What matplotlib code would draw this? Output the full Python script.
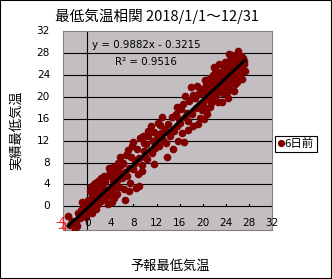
import matplotlib
matplotlib.use("Agg")
import matplotlib.pyplot as plt
from matplotlib.patches import Rectangle
from matplotlib.lines import Line2D
import numpy as np

plt.rcParams['font.family'] = ['Noto Sans CJK JP', 'DejaVu Sans']

title = "最低気温相関 2018/1/1～12/31"
x_label = "予報最低気温"
y_label = "実績最低気温"
series_name = "6日前"
eq_text = "y = 0.9882x - 0.3215"
r2_text = "R² = 0.9516"
slope = 0.9882
intercept = -0.3215
ticks = [-4, 0, 4, 8, 12, 16, 20, 24, 28, 32]

forecast = [
    -3.3, -3.0, -2.6, -2.1, -2.0, -1.6, -1.2, -1.0, -0.7, -0.5, -0.3, -0.1, -1.8, -0.9,
    0.1, 0.2, 0.4, 0.5, 0.6, 0.8, 0.9, 1.0, 1.1, 1.2, 1.3, 1.4, 1.5, 1.6, 1.7, 1.8,
    1.9, 2.0, 2.1, 2.2, 2.3, 2.4, 2.5, 2.6, 2.7, 2.8, 2.9, 3.0, 0.7, 1.5,
    3.1, 3.3, 3.5, 3.6, 3.8, 4.0, 4.1, 4.3, 4.4, 4.5, 4.7, 4.8, 5.0, 5.1,
    5.2, 5.4, 5.5, 5.7, 5.8, 6.0, 3.4, 3.9, 4.2, 4.6, 5.3, 5.6, 3.7, 4.9,
    6.2, 6.3, 6.5, 6.7, 6.9, 7.0, 7.2, 7.4, 7.5, 7.7, 7.9, 8.0, 8.2, 8.4,
    8.6, 8.8, 9.0, 9.2, 9.4, 9.6, 9.8, 10.0, 6.6, 7.3, 8.3, 8.9, 9.5, 9.9,
    10.2, 10.4, 10.6, 10.8, 11.0, 11.2, 11.4, 11.6, 11.8, 12.0, 12.2, 12.5, 12.8,
    13.0, 13.2, 13.5, 13.8, 14.0, 14.3, 14.6, 14.9, 10.5, 11.5, 12.6, 13.6, 14.8,
    15.1, 15.3, 15.5, 15.7, 15.9, 16.1, 16.3, 16.5, 16.7, 16.9, 17.0, 17.2, 17.4,
    17.6, 17.9, 18.1, 18.4, 18.6, 18.8, 19.1, 19.3, 19.5, 19.7, 19.9, 15.6, 16.4,
    17.5, 18.3, 19.0, 19.6,
    20.0, 20.1, 20.2, 20.3, 20.5, 20.6, 20.8, 20.9, 21.0, 21.2, 21.3, 21.4, 21.6,
    21.7, 21.9, 22.0, 22.1, 22.3, 22.4, 22.6, 22.7, 22.8, 22.9, 23.0, 20.4, 20.7,
    21.1, 21.5, 21.8, 22.2, 22.5, 22.8, 20.2, 21.9,
    23.1, 23.2, 23.3, 23.4, 23.5, 23.6, 23.7, 23.8, 23.9, 24.0, 24.1, 24.2, 24.3,
    24.4, 24.5, 24.6, 24.7, 24.8, 24.9, 25.0, 25.1, 25.2, 25.3, 25.4, 25.5, 25.6,
    25.7, 25.8, 25.9, 26.0, 26.1, 26.2, 26.3, 26.4, 26.5, 26.6, 26.7, 26.8, 26.9,
    27.0, 27.1, 27.2, 27.3, 23.5, 24.3, 25.0, 25.6, 26.1, 26.9, 24.6,
]
actual = [
    -1.8, -3.4, -2.6, -4.3, -3.0, -1.2, -2.2, -0.6, -1.4, 0.3, -2.0, -0.8, -3.6, 0.8,
    1.2, -0.6, 2.8, 0.4, 3.6, 1.9, -1.2, 3.9, 0.8, 2.4, 4.2, 1.2, 3.1, -0.4, 2.2, 4.6,
    0.5, 2.9, 1.6, 3.8, 0.9, 5.1, 2.3, 4.0, 1.4, 3.2, 5.6, 2.1, -0.1, 0.2,
    4.4, 1.8, 5.5, 0.4, 3.1, 6.4, 2.6, 0.8, 4.7, 7.2, 3.5, 5.8, 6.8, 2.2,
    4.9, 8.0, 3.6, 6.1, 7.6, 5.2, 3.0, 2.0, 5.6, 1.5, 6.7, 9.1, 7.0, 4.2,
    8.0, 3.1, 6.3, 9.4, 5.5, 10.3, 7.1, 4.2, 9.1, 11.0, 6.8, 11.7, 8.4, 3.3,
    10.4, 5.9, 8.9, 12.4, 7.6, 12.8, 10.1, 9.0, 1.2, 2.9, 8.0, 3.7, 6.5, 11.6,
    11.3, 8.6, 12.9, 10.2, 14.6, 9.8, 11.9, 13.6, 10.7, 12.5, 15.2, 11.0, 13.4,
    16.3, 12.2, 14.2, 9.0, 15.0, 12.8, 16.4, 10.4, 13.8, 7.8, 14.9, 11.5, 14.0,
    13.8, 16.9, 14.6, 12.0, 16.0, 15.2, 17.8, 18.6, 11.7, 16.3, 20.1, 17.0, 15.5,
    19.2, 21.8, 16.9, 14.6, 19.8, 18.0, 15.0, 20.6, 18.7, 21.4, 17.6, 18.2, 13.4,
    13.9, 20.4, 22.0, 16.1,
    21.4, 19.0, 15.9, 20.3, 17.4, 22.1, 19.6, 22.7, 20.8, 18.1, 23.4, 21.2, 19.8,
    24.0, 25.4, 21.6, 23.1, 20.3, 24.6, 22.2, 19.0, 26.0, 23.8, 21.0, 23.0, 16.8,
    22.3, 18.8, 22.9, 25.0, 21.5, 24.4, 18.2, 20.4,
    22.4, 24.6, 19.0, 23.2, 25.8, 21.4, 24.0, 22.6, 26.3, 20.5, 23.8, 25.2, 22.0,
    24.8, 26.6, 23.4, 21.2, 25.5, 24.2, 27.0, 22.6, 24.9, 26.1, 23.5, 21.0, 25.6,
    27.2, 24.0, 26.5, 22.7, 28.3, 25.1, 23.6, 26.8, 24.4, 27.5, 25.7, 23.2, 26.3,
    24.8, 25.9, 26.6, 24.7, 20.6, 19.8, 27.6, 22.3, 24.6, 27.0, 27.8,
]

W, H = 332, 279
fig = plt.figure(figsize=(W / 100, H / 100), dpi=100)
fig.patch.set_facecolor('white')

NUM = ['DejaVu Sans']

L, R, T, B = 63, 272, 31, 230
ax = fig.add_axes([L / W, 1 - B / H, (R - L) / W, (B - T) / H])
ax.set_facecolor('#c2bec2')
ax.set_xlim(-4.2, 32)
ax.set_ylim(-4.3, 32)
for s in ax.spines.values():
    s.set_color('#808080')
    s.set_linewidth(0.8)
ax.set_xticks([])
ax.set_yticks([])

# gridlines
for t in ticks[2:-1]:
    ax.axhline(t, color='black', lw=0.8, zorder=1)
# axes crossing at 0
ax.axhline(0, color='black', lw=0.8, zorder=1)
ax.axvline(0, color='black', lw=0.8, zorder=1)
# small tick marks on the x axis line
for t in ticks[2:]:
    ax.plot([t, t], [0, 0.45], color='black', lw=0.8, zorder=1)

# scatter
ax.plot(forecast, actual, 'o', color='#800000', markersize=5.5,
        markeredgewidth=0, zorder=3)

# trend line
xl = np.array([min(forecast), max(forecast)])
ax.plot(xl, slope * xl + intercept, color='black', lw=2.2, zorder=4)

# equation texts
ax.text(92, H - 45, eq_text, transform=None, fontsize=7.4, family=NUM,
        ha='left', va='center', color='black')
ax.text(115, H - 62, r2_text, transform=None, fontsize=7.4, family=NUM,
        ha='left', va='center', color='black')

# tick labels
ytr = ax.get_yaxis_transform()
xtr = ax.get_xaxis_transform()
ylab_x = (50 - L) / (R - L)
xlab_y = (B - 223) / (B - T)
for t in ticks:
    if t < 0:
        continue
    ax.text(ylab_x, t, str(t), transform=ytr, ha='right', va='center',
            fontsize=7.6, family=NUM, clip_on=False)
    ax.text(t, xlab_y, str(t), transform=xtr, ha='center', va='center',
            fontsize=7.6, family=NUM, clip_on=False)
# negative labels in red
ax.text((55 - L) / (R - L), (B - 222) / (B - T), str(ticks[0]),
        transform=ax.transAxes, ha='left', va='center', fontsize=7.6,
        family=NUM, color='red', clip_on=False, zorder=5)
ax.text((57 - L) / (R - L), ticks[0], str(ticks[0]),
        transform=ytr, ha='left', va='center', fontsize=7.6,
        family=NUM, color='red', clip_on=False, zorder=5)

# titles
fig.text(157 / W, 1 - 16 / H, title, ha='center', va='center', fontsize=10.5)
fig.text(170 / W, 1 - 266 / H, x_label, ha='center', va='center', fontsize=9.5)
fig.text(16 / W, 1 - 130 / H, y_label, ha='center', va='center',
         fontsize=9.5, rotation=90)

# legend
handle = Line2D([], [], marker='o', linestyle='none', color='#800000',
                markersize=5.2, markeredgewidth=0)
leg = fig.legend([handle], [series_name], loc='center left',
                 bbox_to_anchor=(275 / W, 1 - 144 / H), frameon=True,
                 fancybox=False, edgecolor='black', framealpha=1,
                 fontsize=8.2, borderpad=0.25, handlelength=0.5,
                 handletextpad=0.1, borderaxespad=0)
leg.get_frame().set_linewidth(0.8)

# outer border
fig.patches.append(Rectangle((0, 0), 1, 1, transform=fig.transFigure,
                             fill=False, edgecolor='black', lw=1.5))

fig.savefig('out.png', dpi=100)
